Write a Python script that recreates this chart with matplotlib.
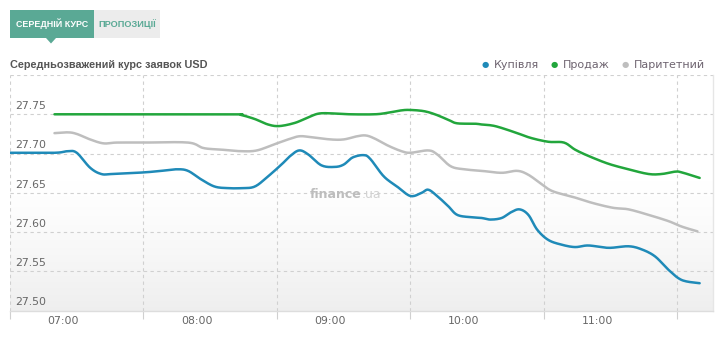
import numpy as np
import matplotlib
matplotlib.use("Agg")
import matplotlib.pyplot as plt
from matplotlib.patches import Rectangle, Polygon

# ---- data (minutes relative to 07:00, rate UAH/USD) ----
buy_t = [-24, -4, 2, 6, 12, 17, 22, 36, 44, 51, 56, 62, 68, 74, 80, 86, 92, 98, 102, 106,
         110, 116, 122, 126, 130, 135, 138, 144, 150, 156, 161, 164, 168, 173, 177, 183,
         188, 192, 197, 201, 205, 209, 213, 218, 224, 230, 236, 245, 254, 260, 266, 272,
         278, 286]
buy_v = [27.701, 27.701, 27.703, 27.701, 27.682, 27.674, 27.674, 27.676, 27.678, 27.680,
         27.678, 27.667, 27.658, 27.656, 27.656, 27.658, 27.671, 27.686, 27.697, 27.704,
         27.699, 27.685, 27.683, 27.686, 27.695, 27.698, 27.693, 27.671, 27.658, 27.646,
         27.650, 27.654, 27.646, 27.633, 27.622, 27.619, 27.618, 27.616, 27.618, 27.625,
         27.629, 27.622, 27.603, 27.590, 27.584, 27.581, 27.583, 27.580, 27.582, 27.578,
         27.569, 27.552, 27.539, 27.535]

sell_t = [-4, 30, 76, 80, 86, 92, 97, 104, 110, 115, 122, 129, 140, 146, 152, 156, 162,
          167, 173, 177, 185, 188, 194, 203, 210, 218, 225, 230, 236, 245, 254, 263, 269,
          275, 278, 286]
sell_v = [27.750, 27.750, 27.750, 27.749, 27.744, 27.737, 27.735, 27.739, 27.746, 27.751,
          27.751, 27.750, 27.750, 27.752, 27.755, 27.7555, 27.754, 27.750, 27.743, 27.7385,
          27.738, 27.737, 27.735, 27.727, 27.720, 27.715, 27.714, 27.705, 27.697, 27.687,
          27.680, 27.674, 27.674, 27.677, 27.676, 27.669]

par_t = [-4, 2, 6, 12, 18, 24, 36, 56, 63, 71, 80, 87, 95, 101, 106, 111, 120, 126, 132,
         136, 140, 146, 152, 156, 164, 168, 174, 180, 188, 197, 204, 209, 215, 220, 230,
         238, 247, 254, 263, 272, 278, 285]
par_v = [27.726, 27.727, 27.725, 27.718, 27.713, 27.714, 27.714, 27.714, 27.707, 27.705,
         27.703, 27.704, 27.712, 27.718, 27.722, 27.721, 27.718, 27.718, 27.722, 27.723,
         27.719, 27.710, 27.703, 27.701, 27.704, 27.699, 27.684, 27.680, 27.678, 27.6755,
         27.678, 27.673, 27.661, 27.652, 27.644, 27.637, 27.631, 27.629, 27.622, 27.614,
         27.607, 27.601]

series_names = ["Купівля", "Продаж", "Паритетний"]
hour_labels = ["07:00", "08:00", "09:00", "10:00", "11:00"]
y_ticks = [27.50, 27.55, 27.60, 27.65, 27.70, 27.75]

# ---- styles ----
C_BUY = "#1f8ab8"
C_SELL = "#22a63c"
C_PAR = "#bebebe"
TEXT = "#666666"
GRID = "#d0d0d0"
TEAL = "#5aa995"
NARROW = ["Liberation Sans", "DejaVu Sans"]

def smooth(x, y, n=12):
    """Catmull-Rom rendering of the readings (display only)."""
    x = np.asarray(x, float); y = np.asarray(y, float)
    px = np.concatenate([[x[0]], x, [x[-1]]]); py = np.concatenate([[y[0]], y, [y[-1]]])
    ox, oy = [], []
    for i in range(1, len(px) - 2):
        s = np.linspace(0, 1, n, endpoint=False)
        for arr, out in ((px, ox), (py, oy)):
            p0, p1, p2, p3 = arr[i - 1], arr[i], arr[i + 1], arr[i + 2]
            out.extend(0.5 * ((2 * p1) + (-p0 + p2) * s + (2 * p0 - 5 * p1 + 4 * p2 - p3) * s**2
                              + (-p0 + 3 * p1 - 3 * p2 + p3) * s**3))
    ox.append(x[-1]); oy.append(y[-1])
    return np.array(ox), np.array(oy)

fig = plt.figure(figsize=(7.2, 3.39), dpi=100)
fig.patch.set_facecolor("white")

x0, x1 = -24, 292
y0, y1 = 27.50, 27.80
ax = fig.add_axes([10 / 720, 1 - 310.7 / 339, 703 / 720, (310.7 - 75) / 339])
ax.set_xlim(x0, x1)
ax.set_ylim(y0, y1)

# background gradient (white upper half, light grey bottom)
g = np.linspace(0, 1, 200)
shade = np.clip((0.55 - g) / 0.55, 0, 1) ** 1.3
img = 1 - 0.065 * shade
col = np.repeat(img[:, None], 2, axis=1)
rgb = np.stack([col, col, col], axis=-1)
ax.imshow(rgb, extent=[x0, x1, y0, y1], aspect="auto", origin="lower", zorder=0)

# grid
for yv in y_ticks[1:] + [27.80]:
    ax.axhline(yv, color=GRID, lw=0.8, ls=(0, (3, 3)), zorder=1)
for xv in range(-24, 292, 60):
    ax.axvline(xv, color=GRID, lw=0.8, ls=(0, (3, 3)), zorder=1)

for sp in ["top", "left"]:
    ax.spines[sp].set_visible(False)
ax.spines["bottom"].set_color("#dddddd")
ax.spines["right"].set_color("#e6e6e6")
ax.spines["bottom"].set_linewidth(1)
ax.spines["right"].set_linewidth(1)

ax.set_xticks(range(-24, 292, 60))
ax.set_xticklabels([])
ax.tick_params(axis="x", length=6, color=GRID, width=0.8)
ax.set_yticks([])

for i, lab in enumerate(hour_labels):
    ax.text(60 * i, -0.044, lab, transform=ax.get_xaxis_transform(), ha="center",
            va="center", fontsize=7.8, color=TEXT)
for yv in y_ticks:
    ax.annotate(f"{yv:.2f}", (x0, yv), xytext=(3.5, 6), textcoords="offset points",
                ha="left", va="center", fontsize=7.8, color=TEXT, zorder=3)

# watermark
ax.text(0.5, 0.495, "finance", transform=ax.transAxes, ha="right", va="center",
        fontsize=9, fontweight="bold", color="#bdbdbd", zorder=2)
ax.text(0.5, 0.495, ".ua", transform=ax.transAxes, ha="left", va="center",
        fontsize=9, color="#d2d2d2", zorder=2)

for t, v, c in ((par_t, par_v, C_PAR), (sell_t, sell_v, C_SELL), (buy_t, buy_v, C_BUY)):
    sx, sy = smooth(t, v)
    ax.plot(sx, sy, color=c, lw=1.8, solid_capstyle="round", zorder=4)

# title
fig.text(10 / 720, 1 - 65 / 339, "Середньозважений курс заявок USD",
         family=NARROW, fontweight="bold",
         fontsize=7.8, color="#555555", ha="left", va="center")

# legend
leg_x = [485, 554, 625]
for xd, name, c in zip(leg_x, series_names, [C_BUY, C_SELL, C_PAR]):
    fig.text(xd / 720, 1 - 64.5 / 339, "●", fontsize=6, color=c, ha="center", va="center")
    fig.text((xd + 9) / 720, 1 - 65 / 339, name, fontsize=8, color="#6e6470",
             ha="left", va="center")

# tabs
fig.add_artist(Rectangle((10 / 720, 1 - 38 / 339), 84 / 720, 28 / 339,
                         transform=fig.transFigure, color=TEAL, lw=0))
fig.add_artist(Polygon([(46 / 720, 1 - 38 / 339), (56 / 720, 1 - 38 / 339),
                        (51 / 720, 1 - 43.5 / 339)], closed=True,
                       transform=fig.transFigure, color=TEAL, lw=0))
fig.add_artist(Rectangle((94 / 720, 1 - 38 / 339), 66 / 720, 28 / 339,
                         transform=fig.transFigure, color="#ececec", lw=0))
fig.text(52 / 720, 1 - 24 / 339, "СЕРЕДНІЙ КУРС", family=NARROW,
         fontweight="bold", fontsize=6.4, color="white", ha="center", va="center")
fig.text(127 / 720, 1 - 24 / 339, "ПРОПОЗИЦІЇ", family=NARROW,
         fontweight="bold", fontsize=6.6, color=TEAL, ha="center", va="center")

fig.savefig("out.png", dpi=100, facecolor="white")
